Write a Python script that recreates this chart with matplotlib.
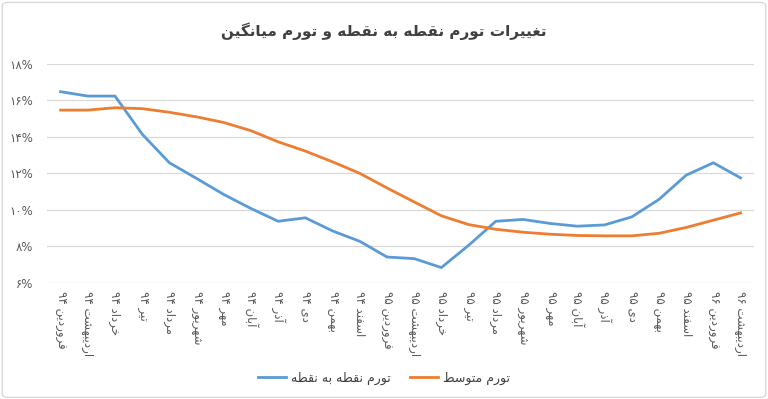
import re
import matplotlib
matplotlib.use('Agg')
import matplotlib.pyplot as plt
from matplotlib.patches import FancyBboxPatch

# ---------------- data ----------------
title = 'تغییرات تورم نقطه به نقطه و تورم میانگین'
categories = [
    'فروردین ۹۴', 'اردیبهشت ۹۴', 'خرداد ۹۴', 'تیر ۹۴', 'مرداد ۹۴', 'شهریور ۹۴',
    'مهر ۹۴', 'آبان ۹۴', 'آذر ۹۴', 'دی ۹۴', 'بهمن ۹۴', 'اسفند ۹۴',
    'فروردین ۹۵', 'اردیبهشت ۹۵', 'خرداد ۹۵', 'تیر ۹۵', 'مرداد ۹۵', 'شهریور ۹۵',
    'مهر ۹۵', 'آبان ۹۵', 'آذر ۹۵', 'دی ۹۵', 'بهمن ۹۵', 'اسفند ۹۵',
    'فروردین ۹۶', 'اردیبهشت ۹۶',
]
point_name = 'تورم نقطه به نقطه'
point_values = [16.48, 16.24, 16.24, 14.15, 12.58, 11.72, 10.84, 10.07, 9.37, 9.56,
                8.84, 8.27, 7.41, 7.32, 6.83, 8.05, 9.37, 9.47, 9.25, 9.10,
                9.17, 9.61, 10.57, 11.90, 12.58, 11.75]
avg_name = 'تورم متوسط'
avg_values = [15.47, 15.47, 15.60, 15.55, 15.35, 15.10, 14.79, 14.34, 13.73, 13.22,
              12.63, 12.00, 11.20, 10.43, 9.67, 9.19, 8.93, 8.77, 8.66, 8.59,
              8.57, 8.57, 8.71, 9.03, 9.43, 9.83]
y_ticks = [6, 8, 10, 12, 14, 16, 18]
y_tick_labels = ['۶%', '۸%', '۱۰%', '۱۲%', '۱۴%', '۱۶%', '۱۸%']

# ---------------- simple Persian shaping ----------------
def _f(start, n):
    return tuple(chr(start + k) for k in range(n))

FORMS = {
    'آ': _f(0xFE81, 2), 'ا': _f(0xFE8D, 2), 'ب': _f(0xFE8F, 4), 'ت': _f(0xFE95, 4),
    'ث': _f(0xFE99, 4), 'ج': _f(0xFE9D, 4), 'ح': _f(0xFEA1, 4), 'خ': _f(0xFEA5, 4),
    'د': _f(0xFEA9, 2), 'ذ': _f(0xFEAB, 2), 'ر': _f(0xFEAD, 2), 'ز': _f(0xFEAF, 2),
    'س': _f(0xFEB1, 4), 'ش': _f(0xFEB5, 4), 'ص': _f(0xFEB9, 4), 'ض': _f(0xFEBD, 4),
    'ط': _f(0xFEC1, 4), 'ظ': _f(0xFEC5, 4), 'ع': _f(0xFEC9, 4), 'غ': _f(0xFECD, 4),
    'ف': _f(0xFED1, 4), 'ق': _f(0xFED5, 4), 'ل': _f(0xFEDD, 4), 'م': _f(0xFEE1, 4),
    'ن': _f(0xFEE5, 4), 'ه': _f(0xFEE9, 4), 'و': _f(0xFEED, 2),
    'پ': _f(0xFB56, 4), 'چ': _f(0xFB7A, 4), 'ژ': _f(0xFB8A, 2),
    'ک': _f(0xFB8E, 4), 'گ': _f(0xFB92, 4), 'ی': _f(0xFBFC, 4),
    '\u064A': _f(0xFBFC, 4), '\u0643': _f(0xFB8E, 4), '\u0649': _f(0xFBFC, 4),
}


def fa(s):
    out = []
    for i, c in enumerate(s):
        if c not in FORMS:
            out.append(c)
            continue
        f = FORMS[c]
        prev = s[i - 1] if i > 0 else ''
        nxt = s[i + 1] if i + 1 < len(s) else ''
        jp = prev in FORMS and len(FORMS[prev]) == 4
        jn = len(f) == 4 and nxt in FORMS
        if jp and jn:
            g = f[3]
        elif jp:
            g = f[1]
        elif jn:
            g = f[2]
        else:
            g = f[0]
        out.append(g)
    vis = ''.join(out)[::-1]
    vis = re.sub(r'[0-9\u06F0-\u06F9%]+', lambda m: m.group(0)[::-1], vis)
    return vis

# ---------------- plot ----------------
plt.rcParams['font.family'] = ['DejaVu Sans']
fig = plt.figure(figsize=(7.68, 3.99), dpi=100)
ax = fig.add_axes([0.0612, 0.2915, 0.9208, 0.5481])

x = list(range(len(categories)))
ax.plot(x, point_values, color='#5B9BD5', lw=2.0, label=fa(point_name), solid_joinstyle='round')
ax.plot(x, avg_values, color='#ED7D31', lw=2.0, label=fa(avg_name), solid_joinstyle='round')

ax.set_xlim(-0.5, len(categories) - 0.5)
ax.set_ylim(6, 18)
ax.set_yticks(y_ticks)
ax.set_yticklabels(y_tick_labels)
ax.set_xticks(x)
ax.set_xticklabels([fa(c) for c in categories], rotation=270, ha='center', va='top')
ax.tick_params(axis='both', length=0, colors='#595959', labelsize=8.5)
ax.tick_params(axis='y', pad=10)
ax.tick_params(axis='x', pad=6)
ax.grid(axis='y', color='#D9D9D9', lw=0.9)
ax.set_axisbelow(True)
for sp in ax.spines.values():
    sp.set_visible(False)

fig.text(0.5, 0.922, fa(title), ha='center', va='center', fontsize=11,
         fontweight='bold', color='#404040')

leg = fig.legend(loc='center', bbox_to_anchor=(0.5, 0.052), ncol=2, frameon=False,
                 fontsize=9, handlelength=2.2, columnspacing=1.6, handletextpad=0.4)
for t in leg.get_texts():
    t.set_color('#404040')

fig.patches.append(FancyBboxPatch((0.003, 0.004), 0.994, 0.99,
                                  boxstyle='round,pad=0,rounding_size=0.008',
                                  transform=fig.transFigure, fill=False,
                                  ec='#D9D9D9', lw=1.0))

fig.savefig('out.png', dpi=100)
